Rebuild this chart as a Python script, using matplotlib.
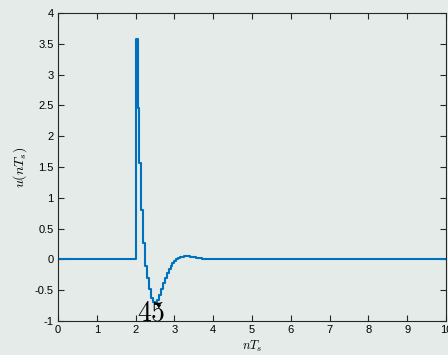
import numpy as np
import matplotlib
matplotlib.use('Agg')
import matplotlib.pyplot as plt

plt.rcParams['font.family'] = ['Liberation Sans', 'DejaVu Sans']
plt.rcParams['mathtext.fontset'] = 'cm'

# sampled control signal u(nTs), Ts = 0.05, nonzero part starts at t = 2
Ts = 0.05
t_start = 2.0
t_end = 10.0
u_vals = [3.57, 2.45, 1.56, 0.81, 0.26, -0.10, -0.30, -0.48, -0.62, -0.69,
          -0.70, -0.66, -0.58, -0.48, -0.39, -0.30, -0.22, -0.16, -0.10, -0.06,
          -0.025, 0.0, 0.02, 0.035, 0.045, 0.05, 0.05, 0.048, 0.044, 0.038,
          0.032, 0.026, 0.02, 0.015, 0.011, 0.008, 0.005, 0.003, 0.002, 0.001,
          0.0]
xticks = [0, 1, 2, 3, 4, 5, 6, 7, 8, 9, 10]
yticks = [-1, -0.5, 0, 0.5, 1, 1.5, 2, 2.5, 3, 3.5, 4]
ytick_labels = ['-1', '-0.5', '0', '0.5', '1', '1.5', '2', '2.5', '3', '3.5', '4']
note = '45'

bg = '#e4ebe8'
blue = '#0072BD'

t = [0.0] + list(t_start + Ts * np.arange(len(u_vals))) + [t_end]
u = [0.0] + u_vals + [0.0]

fig = plt.figure(figsize=(4.48, 3.55), dpi=100, facecolor=bg)
ax = fig.add_axes([58 / 448, 1 - 321 / 355, 388 / 448, 308 / 355])
ax.set_facecolor(bg)

ax.step(t, u, where='post', color=blue, lw=1.5)

ax.set_xlim(0, 10)
ax.set_ylim(-1, 4)
ax.set_xticks(xticks)
ax.set_yticks(yticks)
ax.set_yticklabels(ytick_labels)
ax.tick_params(direction='in', length=4, width=0.8, labelsize=8, top=True, right=True,
               color='#262626', pad=3)
for s in ax.spines.values():
    s.set_color('#262626')
    s.set_linewidth(0.8)

ax.set_xlabel('$nT_s$', fontsize=9, labelpad=3)
ax.set_ylabel('$u(nT_s)$', fontsize=10, labelpad=4)

ax.text(2.4, -0.99, '$' + note + '$', fontsize=20, ha='center', va='baseline', clip_on=False)
ax.annotate('', xy=(2.47, -0.70), xytext=(2.62, -0.76),
            arrowprops=dict(arrowstyle='-|>', color='black', lw=0.6, mutation_scale=6))

fig.savefig('out.png', dpi=100, facecolor=bg)
